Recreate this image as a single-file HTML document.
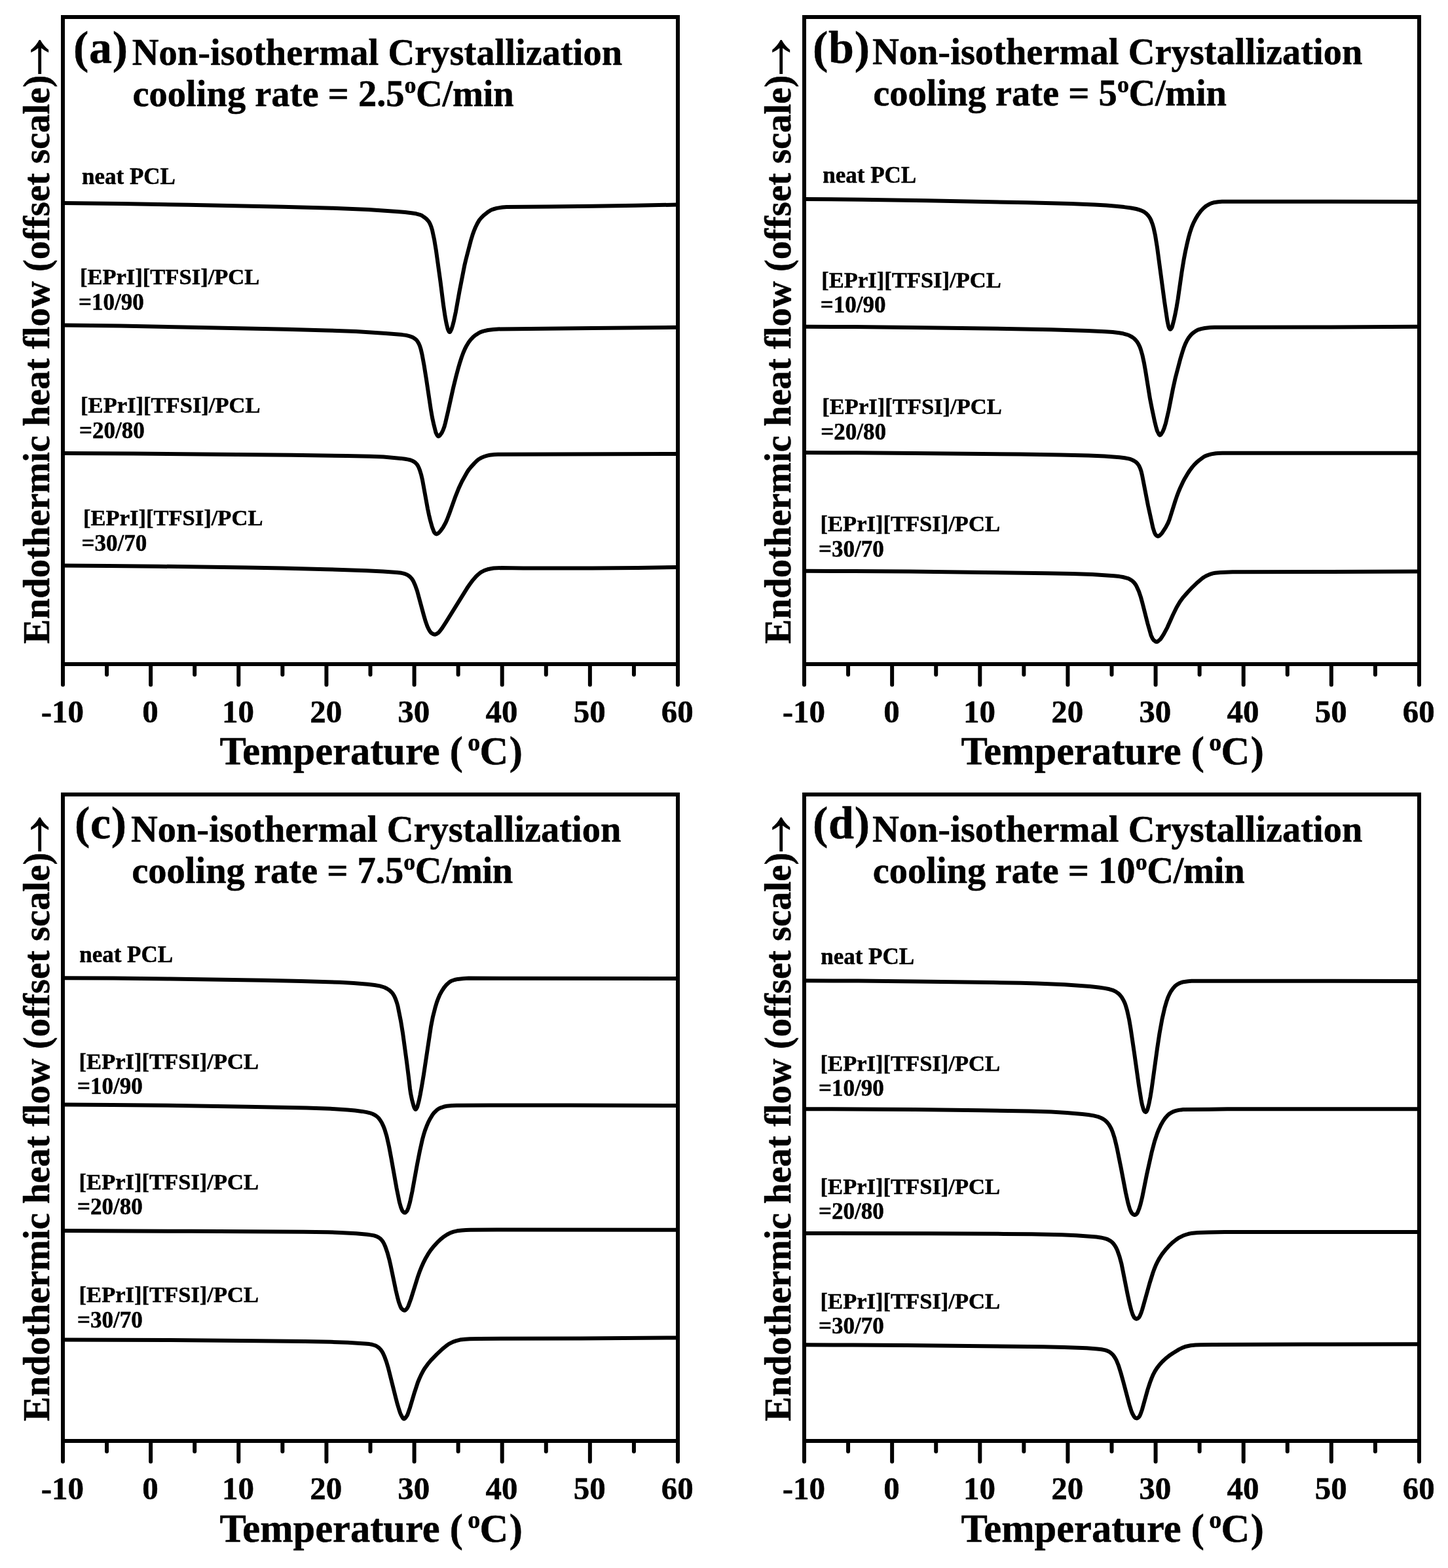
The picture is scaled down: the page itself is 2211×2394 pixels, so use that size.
<!DOCTYPE html>
<html lang="en"><head><meta charset="utf-8"><title>Non-isothermal Crystallization DSC curves</title>
<style>
html,body{margin:0;padding:0;background:#fff;}
body{width:2211px;height:2394px;overflow:hidden;}
svg{display:block;}
text{font-family:'Liberation Serif', 'DejaVu Serif', serif;font-weight:bold;fill:#000;stroke:#000;stroke-width:0.5px;stroke-linejoin:round;}
.fr{fill:none;stroke:#000;stroke-width:6;stroke-linejoin:miter;}
.tk{stroke:#000;stroke-width:6;stroke-linecap:round;fill:none;}
.cv{fill:none;stroke:#000;stroke-width:6;stroke-linejoin:round;stroke-linecap:round;}
.tl{font-size:49px;text-anchor:middle;}
.xt{font-size:60.5px;}
.yt{font-size:56.65px;}
.pl{font-size:70px;letter-spacing:0.7px;}
.tt{font-size:56.5px;}
.lb{font-size:35px;}
.ar{font-weight:normal;stroke:none;}
</style></head><body>
<svg xmlns="http://www.w3.org/2000/svg" width="2211" height="2394" viewBox="0 0 2211 2394">
<rect x="0" y="0" width="2211" height="2394" fill="#fff"/>
<defs><clipPath id="ac"><rect x="39.33" y="-80" width="80" height="120"/></clipPath></defs>
<g id="panel-a">
<path class="cv" d="M96 310L186 311L287.5 312.7L431.5 315.7L506.5 317.7L562.5 319.9L606 322.9L618.5 324L628.5 325.2L635.5 326.3L641 327.8L644 329.1L647.5 331.4L651 334.2L653.5 336.8L655.5 339.6L657 342.6L658.5 346.3L660 351.4L663 365.3L666 383.3L672.5 430L677 465.5L679.5 482.4L681.5 493.2L683.5 501.5L684 503.1L685 505.3L686 506.8L686.5 507.1L687 506.9L687.5 506.4L689.5 502.4L691.5 495.8L693 489.9L696 475.8L701.5 445.1L709.5 404.2L711.5 395.9L719 367L721.5 358.8L724 351.8L726 347L729 340.9L732 335.9L735 332.3L738.5 328.8L744.5 324.1L748.5 321.4L750.5 320.4L753 319.5L758.5 317.9L767 316.5L773.5 316L838 315.5L905.5 314.8L971 313.8L1035 312.5"/>
<path class="cv" d="M96 496.4L183.5 497.6L280 499.4L437.5 502.8L499 504.4L543.5 506.1L589 509.1L614 511.1L620 511.9L625 513.2L628.5 514.3L631 515.5L634 517.5L636 519.3L637.5 521.3L639.5 524.6L641 528.1L642.5 532.8L644.5 541.2L647.5 557.5L651 579.3L658 626.1L660 637.5L662.5 648.8L665.5 660.4L666.5 662.6L668 665.1L669 666.1L669.5 666.2L670.5 665.8L671.5 664.9L674.5 660.9L676.5 656.8L678.5 651.4L680 645.8L684 628.7L692 592.5L696.5 574.2L699.5 562.9L702.5 552.7L705 545L707.5 538.3L710 532.5L712.5 527.7L715.5 522.8L718.5 518.8L722 515.1L725.5 512L729.5 509.4L733.5 507.2L738 505.6L745 504L753.5 502.9L760.5 502.4L904.5 501.1L1035 499.7"/>
<path class="cv" d="M96 692L204.5 692.6L334 693.7L445 694.8L529.5 696.1L565 696.8L585.5 697.6L612 699.9L618.5 700.8L623.5 701.6L627 702.5L629.5 703.5L632.5 705.1L634.5 706.7L636.5 708.8L638 711L639.5 714L641 717.8L643 724.3L645 732.7L653 776.6L655 786.2L657 794.5L660 805.2L662.5 811.7L663.5 813.4L664 813.9L665.5 815.1L666.5 815.4L668 814.9L670 813.5L672.5 810.8L676.5 805.2L680.5 798L682.5 793.5L686 784.4L695 759.2L700.5 745.4L705.5 734.8L713.5 720.5L716 716.8L719 713.1L724.5 707.1L728 703.6L730.5 701.5L733 700L736.5 698.2L739.5 697L744 695.6L748 694.8L755 694L760.5 693.7L1035 692.9"/>
<path class="cv" d="M96 863.6L165.5 863.9L242.5 864.7L376.5 866.5L432 867.6L498 869.2L559.5 871.2L585 872.5L606 874L613 874.8L616.5 875.6L619.5 876.6L622 877.8L624.5 879.4L626 880.6L628 882.7L629.5 884.6L631 887.1L634 893.7L637 902.2L647 939.1L650 949.3L652.5 956.2L654.5 960.5L656.5 963.9L658 965.8L659 966.7L661.5 968.1L663 968.6L664 968.7L665 968.5L666.5 967.9L669.5 966L671.5 963.8L675 959.1L681 949.8L713 898.3L717.5 891.7L721.5 886.4L727 880L730 877.3L733 874.8L735.5 873.1L738 871.8L741.5 870.3L744.5 869.3L749.5 868.2L753.5 867.5L766 867L799 867.5L904 867.4L973.5 866.9L1035 866"/>
<rect class="fr" x="96" y="26" width="939" height="988"/>
<path class="tk" d="M96.00 1014 V1045.4M163.07 1014 V1030M230.14 1014 V1045.4M297.21 1014 V1030M364.29 1014 V1045.4M431.36 1014 V1030M498.43 1014 V1045.4M565.50 1014 V1030M632.57 1014 V1045.4M699.64 1014 V1030M766.71 1014 V1045.4M833.79 1014 V1030M900.86 1014 V1045.4M967.93 1014 V1030M1035.00 1014 V1045.4"/>
<text class="tl" x="95.30" y="1102.6">-10</text>
<text class="tl" x="229.44" y="1102.6">0</text>
<text class="tl" x="363.59" y="1102.6">10</text>
<text class="tl" x="497.73" y="1102.6">20</text>
<text class="tl" x="631.87" y="1102.6">30</text>
<text class="tl" x="766.01" y="1102.6">40</text>
<text class="tl" x="900.16" y="1102.6">50</text>
<text class="tl" x="1034.30" y="1102.6">60</text>
<text class="xt" x="335.5" y="1167.3">Temperature (<tspan dx="7.4" dy="-21.2" font-size="38">o</tspan><tspan dx="-0.7" dy="21.2">C</tspan><tspan dx="1.5">)</tspan></text>
<text class="yt" transform="translate(75 983) rotate(-90)">Endothermic heat flow (offset scale)</text>
<text class="ar" clip-path="url(#ac)" font-size="115" transform="translate(80.39 152.33) rotate(-90)">→</text>
<text class="pl" x="112" y="96">(a)</text>
<text class="tt" x="201.7" y="98.9">Non-isothermal Crystallization</text>
<text class="tt" x="202.5" y="161.8">cooling rate = 2.5<tspan dx="0" dy="-19.6" font-size="36">o</tspan><tspan dx="-0.5" dy="19.6" letter-spacing="-0.3">C/min</tspan></text>
<text class="lb" x="125" y="280.7">neat PCL</text>
<text class="lb" style="font-size:34.55px" x="121.9" y="433.8">[EPrI][TFSI]/PCL</text>
<text class="lb" x="120" y="472.7">=10/90</text>
<text class="lb" style="font-size:34.55px" x="123.1" y="629.9">[EPrI][TFSI]/PCL</text>
<text class="lb" x="121" y="668.6">=20/80</text>
<text class="lb" style="font-size:34.55px" x="127" y="801.5">[EPrI][TFSI]/PCL</text>
<text class="lb" x="124.6" y="840.5">=30/70</text>
</g>
<g id="panel-b">
<path class="cv" d="M1228 303.9L1316 304.8L1414.5 306.3L1568 309.3L1635 311.1L1671 312.5L1689 313.6L1703.5 314.8L1716.5 316.1L1727 317.5L1735 319L1740.5 320.6L1744.5 322.2L1747.5 323.9L1751 326.7L1753.5 329.4L1756 333.1L1757.5 336.1L1760 342.7L1761.5 348L1764 359.4L1767 378.1L1778 460.1L1782.5 490.2L1784 497.3L1785 500.5L1786 502.1L1786.5 502.6L1787 502.8L1787.5 502.6L1788.5 501.4L1789.5 499.7L1790 498.3L1792.5 488.5L1794.5 479.5L1796.5 469.1L1798.5 457.2L1804.5 415.4L1807.5 396.9L1810 383.9L1812.5 372.4L1815 362L1817 354.9L1820 346L1822.5 340.1L1826 333.3L1829.5 327.7L1833.5 322.3L1837.5 318L1841.5 314.6L1845.5 312.3L1849.5 310.4L1853 309.3L1860 308.2L1866 307.8L2009.5 307.7L2167 307.9"/>
<path class="cv" d="M1228 498.8L1305 499.1L1390.5 499.9L1537.5 502L1604.5 503.2L1660.5 504.9L1687 506.2L1699 507.1L1709 508.3L1715 509.3L1720.5 510.8L1724.5 512.3L1728.5 514.5L1731.5 516.6L1734 519.1L1736.5 522.2L1738.5 525.6L1740.5 529.8L1742 534L1744.5 542.8L1747 554.5L1749 565.7L1756 608.9L1759 624.2L1763 643L1765.5 653.1L1767 658L1769.5 663L1770.5 664.2L1771 664.4L1771.5 664.3L1772.5 663.6L1775.5 658.9L1777.5 654L1780 646.1L1784.5 626.6L1791 593.7L1794.5 577.8L1802.5 547.3L1805.5 537.4L1808 529.8L1810 524.9L1812.5 519.8L1814.5 516.4L1816.5 513.7L1819 510.8L1821.5 508.5L1825.5 505.6L1829 503.7L1834 502.1L1839.5 501L1848 500.1L1854.5 499.8L2010 499.6L2167 498.8"/>
<path class="cv" d="M1228 691.1L1308 691.3L1398 691.9L1558 693.6L1619 694.5L1662.5 695.5L1686.5 696.6L1699.5 697.4L1709.5 698.3L1717.5 699.3L1723.5 700.4L1726.5 701.2L1729.5 702.5L1732.5 704.1L1734.5 705.5L1736.5 707.4L1738.5 710L1739.5 711.7L1741 715.1L1742.5 719.4L1744 725.7L1753 771.9L1760.5 805.9L1762.5 812.2L1764 815.6L1765 816.9L1766.5 818.1L1767.5 818.7L1768.5 818.8L1769.5 818.4L1770.5 817.7L1773 815.4L1774.5 813.6L1780 805.1L1783.5 798.5L1785.5 793.6L1794.5 765L1797 757.6L1799.5 751L1802.5 743.9L1806 736.4L1809 730.7L1813 723.9L1816.5 718.5L1820.5 713.1L1823.5 709.6L1827.5 705.6L1831.5 702.3L1837.5 697.8L1840 696.4L1845 694.6L1849.5 693.4L1856.5 692.2L1860 691.9L1866.5 691.8L2167 691.8"/>
<path class="cv" d="M1228 871.8L1304.5 872L1389 872.6L1503.5 873.9L1598 875.2L1638 876.1L1668 877.1L1701 879.3L1709 880.1L1714.5 881L1721.5 882.8L1724.5 884.1L1727.5 885.8L1729.5 887.3L1732 889.9L1734 892.6L1735.5 895.2L1739 903L1742 911.9L1745 923L1752.5 952.5L1757.5 969.9L1759.5 974.3L1761.5 977.3L1764 979.2L1765 979.7L1766 979.9L1767 979.8L1768 979.3L1771.5 976.3L1773.5 973.7L1777 968.2L1782.5 957.8L1791 938.8L1796.5 927.5L1801.5 919L1806 912.8L1813.5 904.2L1820.5 896.8L1827 890.6L1835 883.7L1838 881.5L1843 878.7L1846.5 877.2L1852 875.4L1855.5 874.7L1863.5 873.9L1882 873.3L2024.5 873.1L2167 872.5"/>
<rect class="fr" x="1228" y="26" width="939" height="988"/>
<path class="tk" d="M1228.00 1014 V1045.4M1295.07 1014 V1030M1362.14 1014 V1045.4M1429.21 1014 V1030M1496.29 1014 V1045.4M1563.36 1014 V1030M1630.43 1014 V1045.4M1697.50 1014 V1030M1764.57 1014 V1045.4M1831.64 1014 V1030M1898.71 1014 V1045.4M1965.79 1014 V1030M2032.86 1014 V1045.4M2099.93 1014 V1030M2167.00 1014 V1045.4"/>
<text class="tl" x="1227.30" y="1102.6">-10</text>
<text class="tl" x="1361.44" y="1102.6">0</text>
<text class="tl" x="1495.59" y="1102.6">10</text>
<text class="tl" x="1629.73" y="1102.6">20</text>
<text class="tl" x="1763.87" y="1102.6">30</text>
<text class="tl" x="1898.01" y="1102.6">40</text>
<text class="tl" x="2032.16" y="1102.6">50</text>
<text class="tl" x="2166.30" y="1102.6">60</text>
<text class="xt" x="1467.5" y="1167.3">Temperature (<tspan dx="7.4" dy="-21.2" font-size="38">o</tspan><tspan dx="-0.7" dy="21.2">C</tspan><tspan dx="1.5">)</tspan></text>
<text class="yt" transform="translate(1207 983) rotate(-90)">Endothermic heat flow (offset scale)</text>
<text class="ar" clip-path="url(#ac)" font-size="115" transform="translate(1212.39 152.33) rotate(-90)">→</text>
<text class="pl" x="1241" y="96">(b)</text>
<text class="tt" x="1331.9" y="98.2">Non-isothermal Crystallization</text>
<text class="tt" x="1333.2" y="161">cooling rate = 5<tspan dx="0" dy="-19.6" font-size="36">o</tspan><tspan dx="-0.5" dy="19.6" letter-spacing="-0.3">C/min</tspan></text>
<text class="lb" x="1256.3" y="278.9">neat PCL</text>
<text class="lb" style="font-size:34.55px" x="1254.3" y="438.6">[EPrI][TFSI]/PCL</text>
<text class="lb" x="1252.8" y="477">=10/90</text>
<text class="lb" style="font-size:34.55px" x="1255.3" y="631.5">[EPrI][TFSI]/PCL</text>
<text class="lb" x="1253.3" y="670.7">=20/80</text>
<text class="lb" style="font-size:34.55px" x="1252.5" y="811.4">[EPrI][TFSI]/PCL</text>
<text class="lb" x="1250" y="849.9">=30/70</text>
</g>
<g id="panel-c">
<path class="cv" d="M96 1493.3L173.5 1493.6L259.5 1494.5L404 1496.7L460 1498L519 1499.8L540 1500.9L561.5 1502.8L572 1504L580 1505.4L587 1507.5L590.5 1509.2L594.5 1511.7L597.5 1514.4L600 1517.4L602 1520.8L604 1525.3L606 1531L607.5 1536.3L612 1558.8L615 1577.2L621 1621.2L624 1644.8L626 1662.2L627 1669.1L629 1678.9L631.5 1688.2L632.5 1691L633.5 1692.8L634.5 1693.8L635 1693.7L636 1692.4L637 1690.6L637.5 1689.1L639.5 1681.6L641.5 1672.1L644 1658.5L647 1640.4L658 1567.4L661 1552.2L664.5 1538.4L667 1530.1L669 1524.7L671.5 1518.9L674.5 1513.3L678 1508L681 1504.3L685.5 1500.1L689 1497.8L694 1496L699 1494.9L708 1494L715.5 1493.6L1035 1493.9"/>
<path class="cv" d="M96 1686.5L171.5 1686.9L255.5 1687.8L377.5 1689.7L468 1691.5L504.5 1692.8L530.5 1694.5L542 1695.6L553 1696.9L560 1698.1L565 1699.3L569 1700.8L572.5 1702.5L575.5 1704.6L578 1706.9L580.5 1710.2L583 1714.3L585.5 1719.6L587.5 1724.8L590.5 1734.9L594 1750.4L597.5 1769L605.5 1813.8L610 1835.8L612 1842.8L614 1848L614.5 1848.9L616 1850.5L617 1851.2L618 1851.6L618.5 1851.6L619.5 1851L620.5 1850L622 1847.9L623.5 1844.2L626 1835.5L629.5 1819L637 1777.7L641 1757.4L645 1739.5L647 1732.2L649 1725.9L651.5 1719.2L654 1713.4L657 1707.7L660.5 1701.9L663 1698.7L667 1694.9L670 1692.7L673 1691.3L677.5 1689.8L682 1688.8L690 1688L697 1687.7L747 1687.5L871 1687.5L1035 1688"/>
<path class="cv" d="M96 1879L292 1879.8L463.5 1880.8L500.5 1881.2L519.5 1881.9L544 1883.3L560.5 1884.8L566.5 1885.6L571 1886.4L574 1887.3L576.5 1888.4L579.5 1890.2L581.5 1891.9L583.5 1894.2L585 1896.3L586.5 1899.1L588.5 1903.7L591.5 1912.4L594.5 1923.4L596.5 1932.1L604.5 1970.4L607 1980.9L609 1988.3L611.5 1995L613 1997.8L615.5 2000L616.5 2000.5L617.5 2000.8L618 2000.8L619 2000.3L620.5 1998.9L622 1997L623.5 1994L627.5 1983L637.5 1950.8L641 1940.8L644 1933.4L647 1926.8L650 1920.9L653.5 1914.9L657.5 1908.9L661.5 1903.8L667.5 1897.2L672.5 1892.3L678 1887.9L682.5 1885L687.5 1882.3L692.5 1880.6L698 1879.3L705 1878.4L711.5 1877.9L718.5 1877.8L758.5 1877.6L1035 1877.7"/>
<path class="cv" d="M96 2045.5L174 2045.7L260 2046.1L395.5 2047.3L465.5 2048.1L505 2048.8L531 2049.7L557.5 2051.4L564 2052.1L568 2052.8L572 2054L574 2054.8L576.5 2056.3L579 2058.2L581 2060.3L583.5 2063.8L585 2066.5L587 2070.9L590 2079.1L593 2089.2L604.5 2135L607 2144.4L609 2151L611 2157.1L612.5 2160.6L615 2165L616 2166.1L617 2166.4L618 2165.9L619.5 2164.3L621.5 2161.4L622.5 2159.2L626 2149.2L633 2125.7L638 2110.5L640.5 2104.5L643.5 2098.1L646.5 2092.4L649 2088.4L653 2082.9L658 2076.9L667 2067.6L675.5 2059.6L681.5 2054.7L685.5 2051.9L691.5 2048.8L696.5 2047.1L702.5 2045.6L710 2044.8L717.5 2044.3L732.5 2043.9L886.5 2043.6L1035 2042.4"/>
<rect class="fr" x="96" y="1213" width="939" height="987"/>
<path class="tk" d="M96.00 2200 V2231.4M163.07 2200 V2216M230.14 2200 V2231.4M297.21 2200 V2216M364.29 2200 V2231.4M431.36 2200 V2216M498.43 2200 V2231.4M565.50 2200 V2216M632.57 2200 V2231.4M699.64 2200 V2216M766.71 2200 V2231.4M833.79 2200 V2216M900.86 2200 V2231.4M967.93 2200 V2216M1035.00 2200 V2231.4"/>
<text class="tl" x="95.30" y="2288.6">-10</text>
<text class="tl" x="229.44" y="2288.6">0</text>
<text class="tl" x="363.59" y="2288.6">10</text>
<text class="tl" x="497.73" y="2288.6">20</text>
<text class="tl" x="631.87" y="2288.6">30</text>
<text class="tl" x="766.01" y="2288.6">40</text>
<text class="tl" x="900.16" y="2288.6">50</text>
<text class="tl" x="1034.30" y="2288.6">60</text>
<text class="xt" x="335.5" y="2354.3">Temperature (<tspan dx="7.4" dy="-21.2" font-size="38">o</tspan><tspan dx="-0.7" dy="21.2">C</tspan><tspan dx="1.5">)</tspan></text>
<text class="yt" transform="translate(75 2170) rotate(-90)">Endothermic heat flow (offset scale)</text>
<text class="ar" clip-path="url(#ac)" font-size="115" transform="translate(80.39 1339.33) rotate(-90)">→</text>
<text class="pl" x="113.9" y="1280">(c)</text>
<text class="tt" x="199.9" y="1285">Non-isothermal Crystallization</text>
<text class="tt" x="201.2" y="1348">cooling rate = 7.5<tspan dx="0" dy="-19.6" font-size="36">o</tspan><tspan dx="-0.5" dy="19.6" letter-spacing="-0.3">C/min</tspan></text>
<text class="lb" x="121.2" y="1468.7">neat PCL</text>
<text class="lb" style="font-size:34.55px" x="120.6" y="1632.4">[EPrI][TFSI]/PCL</text>
<text class="lb" x="118" y="1669.7">=10/90</text>
<text class="lb" style="font-size:34.55px" x="120.6" y="1816">[EPrI][TFSI]/PCL</text>
<text class="lb" x="118" y="1854.3">=20/80</text>
<text class="lb" style="font-size:34.55px" x="120.6" y="1988.1">[EPrI][TFSI]/PCL</text>
<text class="lb" x="118" y="2026.5">=30/70</text>
</g>
<g id="panel-d">
<path class="cv" d="M1228 1497.3L1310.5 1497.6L1399 1498.4L1516.5 1500.1L1558.5 1500.8L1583.5 1501.5L1625.5 1503.2L1664 1506.1L1677.5 1507.5L1687 1508.9L1694 1510.3L1700 1512.2L1703.5 1513.9L1707.5 1516.7L1710 1519.2L1713 1522.9L1715.5 1527.2L1717.5 1531.6L1719 1535.8L1721 1542.6L1724 1556.1L1726.5 1570.7L1732 1607.9L1739 1657.7L1742.5 1679.3L1744 1686.8L1746 1693.8L1747 1695.9L1748 1697.2L1749 1697.9L1749.5 1698L1750.5 1697.1L1751.5 1695.5L1752.5 1692.7L1754.5 1684.7L1756.5 1674.6L1758.5 1662.3L1767 1600.9L1770.5 1577.7L1774.5 1555.7L1778.5 1538.4L1781 1529.8L1783.5 1522.6L1785.5 1518.1L1788 1513.4L1791 1509.2L1794.5 1505.3L1797 1503.3L1800.5 1501.4L1804 1500L1807 1499.2L1814 1498.2L1819.5 1497.8L2167 1497.9"/>
<path class="cv" d="M1228 1693.2L1311 1693.4L1397.5 1694L1496.5 1695.2L1572 1696.4L1605 1697.6L1621 1698.4L1629 1698.9L1652.5 1701L1661.5 1702L1670 1703.4L1677 1705.1L1681 1706.7L1684 1708.2L1687 1710.3L1690 1713L1693 1716.6L1695 1719.8L1697 1723.7L1699 1728.6L1702 1738L1705.5 1752.5L1711.5 1782.2L1719 1821.4L1722.5 1837.2L1725 1845.6L1726 1848.1L1727.5 1851L1728.5 1852.5L1729.5 1853.6L1731.5 1854.7L1733 1855L1734 1854.7L1735 1853.9L1736.5 1852.2L1737 1851.3L1739.5 1845.2L1741.5 1838.6L1744 1828.3L1751 1793.3L1758.5 1759.6L1763 1742.5L1767 1730.4L1769.5 1724.2L1772.5 1717.8L1776 1711.6L1779 1707.3L1782.5 1703.3L1785.5 1700.6L1788.5 1698.7L1792.5 1696.8L1795.5 1695.9L1800 1694.9L1803.5 1694.4L1806.5 1694.1L1846.5 1693.8L1874 1693.3L2167 1693.2"/>
<path class="cv" d="M1228 1882.9L1418 1883.3L1532.5 1883.9L1575.5 1884.3L1621.5 1885.3L1643.5 1886.2L1674 1888.6L1680.5 1889.4L1686 1890.6L1689.5 1891.6L1692 1892.6L1695 1894.3L1697.5 1896.1L1700 1898.7L1702 1901.3L1704 1904.6L1706 1908.8L1709.5 1918.8L1712.5 1929.9L1721.5 1975.1L1725 1991.3L1727.5 2000.9L1729.5 2006.9L1731.5 2011L1732 2011.7L1733 2012.6L1734.5 2013.5L1735.5 2013.7L1737 2013.2L1738.5 2012L1739.5 2010.9L1740.5 2009.1L1742.5 2004.3L1744 1999.9L1746.5 1991.2L1755.5 1959L1760.5 1943L1762.5 1937.5L1765 1931.4L1767.5 1926.2L1770.5 1920.8L1774.5 1914.7L1779.5 1908.3L1784.5 1902.7L1790 1897.4L1795.5 1893L1800.5 1889.6L1806 1886.8L1811 1885L1815 1883.8L1818.5 1883.1L1829 1882L1845 1881.5L1870 1881.1L2167 1881.1"/>
<path class="cv" d="M1228 2053.3L1302 2053.5L1384.5 2054L1502 2055.2L1593 2056.3L1625 2056.9L1659.5 2058.3L1675 2059.5L1682 2060.3L1686.5 2061.1L1689.5 2061.9L1692.5 2063.2L1694.5 2064.3L1696.5 2065.8L1699 2068.2L1700.5 2070L1702.5 2073L1704.5 2076.5L1708 2085.2L1711.5 2096.4L1715.5 2110.7L1724.5 2144.8L1727.5 2154.3L1729 2158L1731.5 2162.7L1732.5 2163.9L1733.5 2164.7L1734.5 2165.2L1735.5 2165.5L1737 2165.1L1739 2163.6L1740 2162.2L1741.5 2158.9L1744 2151.9L1752.5 2121.4L1756 2110.7L1758.5 2104.1L1761 2098.3L1763.5 2093.6L1766.5 2088.8L1770 2084.3L1775 2078.8L1780 2074.1L1785 2070.1L1791 2066L1800.5 2060.1L1806.5 2057.3L1811 2055.7L1818 2054.3L1825.5 2053.6L1833 2053.2L1851.5 2053L1993.5 2052.5L2167 2052.3"/>
<rect class="fr" x="1228" y="1213" width="939" height="987"/>
<path class="tk" d="M1228.00 2200 V2231.4M1295.07 2200 V2216M1362.14 2200 V2231.4M1429.21 2200 V2216M1496.29 2200 V2231.4M1563.36 2200 V2216M1630.43 2200 V2231.4M1697.50 2200 V2216M1764.57 2200 V2231.4M1831.64 2200 V2216M1898.71 2200 V2231.4M1965.79 2200 V2216M2032.86 2200 V2231.4M2099.93 2200 V2216M2167.00 2200 V2231.4"/>
<text class="tl" x="1227.30" y="2288.6">-10</text>
<text class="tl" x="1361.44" y="2288.6">0</text>
<text class="tl" x="1495.59" y="2288.6">10</text>
<text class="tl" x="1629.73" y="2288.6">20</text>
<text class="tl" x="1763.87" y="2288.6">30</text>
<text class="tl" x="1898.01" y="2288.6">40</text>
<text class="tl" x="2032.16" y="2288.6">50</text>
<text class="tl" x="2166.30" y="2288.6">60</text>
<text class="xt" x="1467.5" y="2354.3">Temperature (<tspan dx="7.4" dy="-21.2" font-size="38">o</tspan><tspan dx="-0.7" dy="21.2">C</tspan><tspan dx="1.5">)</tspan></text>
<text class="yt" transform="translate(1207 2170) rotate(-90)">Endothermic heat flow (offset scale)</text>
<text class="ar" clip-path="url(#ac)" font-size="115" transform="translate(1212.39 1339.33) rotate(-90)">→</text>
<text class="pl" x="1241" y="1280">(d)</text>
<text class="tt" x="1331.9" y="1285">Non-isothermal Crystallization</text>
<text class="tt" x="1332.7" y="1348">cooling rate = 10<tspan dx="0" dy="-19.6" font-size="36">o</tspan><tspan dx="-0.5" dy="19.6" letter-spacing="-0.3">C/min</tspan></text>
<text class="lb" x="1253.2" y="1471.9">neat PCL</text>
<text class="lb" style="font-size:34.55px" x="1252.6" y="1634.7">[EPrI][TFSI]/PCL</text>
<text class="lb" x="1250" y="1672.7">=10/90</text>
<text class="lb" style="font-size:34.55px" x="1252.6" y="1822.8">[EPrI][TFSI]/PCL</text>
<text class="lb" x="1250" y="1861.1">=20/80</text>
<text class="lb" style="font-size:34.55px" x="1252.6" y="1997.8">[EPrI][TFSI]/PCL</text>
<text class="lb" x="1250" y="2036">=30/70</text>
</g>
</svg></body></html>
